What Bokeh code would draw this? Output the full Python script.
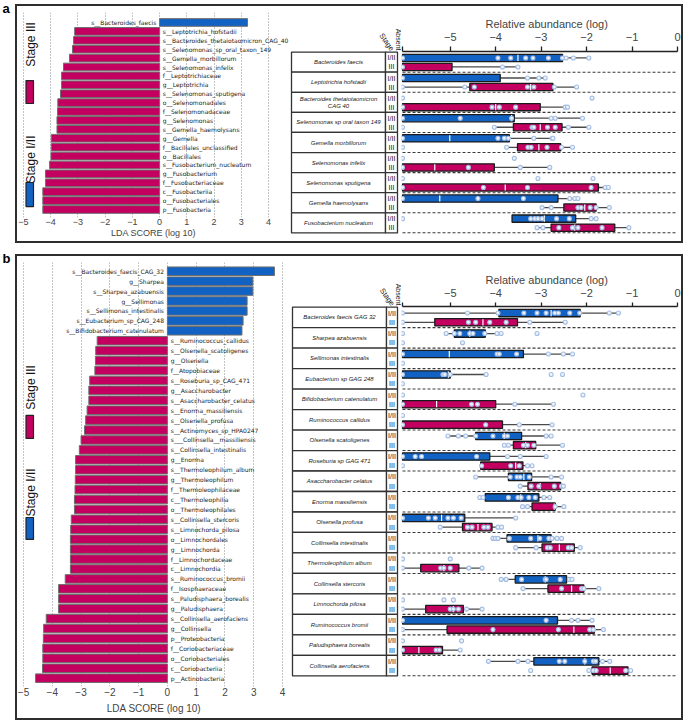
import math
from bokeh.plotting import figure
from bokeh.models import Range1d, FixedTicker, Spacer
from bokeh.layouts import row, column
from bokeh.core.properties import value
from bokeh.embed import file_html
from bokeh.resources import INLINE

AB = -6.05  # "Absent" position on the log axis

# ---------------- panel a : LDA ----------------
A_LDA_NAMES = ["s__Bacteroides_faecis", "s__Leptotrichia_hofstadii", "s__Bacteroides_thetaiotaomicron_CAG_40",
               "s__Selenomonas_sp_oral_taxon_149", "s__Gemella_morbillorum", "s__Selenomonas_infelix",
               "f__Leptotrichiaceae", "g__Leptotrichia", "s__Selenomonas_sputigena", "o__Selenomonadales",
               "f__Selenomonadaceae", "g__Selenomonas", "s__Gemella_haemolysans", "g__Gemella",
               "f__Bacillales_unclassified", "o__Bacillales", "s__Fusobacterium_nucleatum", "g__Fusobacterium",
               "f__Fusobacteriaceae", "c__Fusobacteriia", "o__Fusobacteriales", "p__Fusobacteria"]
A_LDA_VALUES = [3.23, -3.12, -3.16, -3.20, -3.31, -3.53, -3.60, -3.60, -3.64, -3.74, -3.75, -3.77, -3.77,
                -3.98, -3.98, -3.99, -4.04, -4.19, -4.19, -4.29, -4.29, -4.29]

# ---------------- panel b : LDA ----------------
B_LDA_NAMES = ["s__Bacteroides_faecis_CAG_32", "g__Sharpea", "s__Sharpea_azabuensis", "g__Sellimonas",
               "s__Sellimonas_intestinalis", "s__Eubacterium_sp_CAG_248", "s__Bifidobacterium_catenulatum",
               "s__Ruminococcus_callidus", "s__Olsenella_scatoligenes", "g__Olsenella", "f__Atopobiaceae",
               "s__Roseburia_sp_CAG_471", "g__Asaccharobacter", "s__Asaccharobacter_celatus",
               "s__Enorma_massiliensis", "s__Olsenella_profusa", "s__Actinomyces_sp_HPA0247",
               "s___Collinsella__massiliensis", "s__Collinsella_intestinalis", "g__Enorma",
               "s__Thermoleophilum_album", "g__Thermoleophilum", "f__Thermoleophilaceae", "c__Thermoleophilia",
               "o__Thermoleophilales", "s__Collinsella_stercoris", "s__Limnochorda_pilosa", "o__Limnochordales",
               "g__Limnochorda", "f__Limnochordaceae", "c__Limnochordia", "s__Ruminococcus_bromii",
               "f__Isosphaeraceae", "s__Paludisphaera_borealis", "g__Paludisphaera", "s__Collinsella_aerofaciens",
               "g__Collinsella", "p__Proteobacteria", "f__Coriobacteriaceae", "o__Coriobacteriales",
               "c__Coriobacteriia", "p__Actinobacteria"]
B_LDA_VALUES = [3.72, 2.97, 2.97, 2.77, 2.77, 2.63, 2.59, -2.44, -2.49, -2.50, -2.52, -2.70, -2.73, -2.73,
                -2.79, -2.84, -2.88, -3.00, -3.06, -3.19, -3.19, -3.20, -3.21, -3.23, -3.23, -3.34, -3.36,
                -3.37, -3.37, -3.37, -3.37, -3.55, -3.78, -3.78, -3.78, -4.21, -4.30, -4.31, -4.33, -4.33,
                -4.34, -4.58]

LDA_TICKS = [-5, -4, -3, -2, -1, 0, 1, 2, 3, 4]
ABUND_TICKS = [-5, -4, -3, -2, -1, 0]

# ---------------- panel a : relative abundance ----------------
A_SPECIES = ["Bacteroides faecis", "Leptotrichia hofstadii", "Bacteroides thetaiotaomicron\nCAG 40",
             "Selenomonas sp oral taxon 149", "Gemella morbillorum", "Selenomonas infelix",
             "Selenomonas sputigena", "Gemella haemolysans", "Fusobacterium nucleatum"]
# stage I/II : (q1, median, q3)
A_EARLY_BOX = [(AB, -3.51, -2.53), (AB, AB, -3.90), None, (AB, -3.65, -3.59), (AB, -5.01, -3.70), None, None,
               (AB, -5.23, -2.63), (-3.64, -2.93, -2.24)]
A_EARLY_WHISK = [(AB, -1.95), (AB, -2.91), None, (AB, -2.09), (AB, -2.74), None, None, (AB, -2.19), (-3.64, -1.79)]
A_EARLY_PTS = [[AB, -3.95, -3.67, -3.34, -3.18, -2.84, -2.53, -2.45, -2.29, -1.95],
               [AB, -3.30, -3.05, -2.91],
               [AB, -1.88],
               [AB, -4.78, -3.65, -2.78, -2.69, -2.09],
               [AB, -3.95, -3.81, -3.72, -3.16, -2.76, -2.74],
               [AB, -3.59],
               [AB, -3.07, -1.86],
               [AB, -4.39, -3.39, -2.37, -2.26, -2.19],
               [AB, -3.23, -3.14, -3.07, -2.98, -2.66, -2.38, -1.90, -1.79]]
# stage III
A_LATE_BOX = [(AB, AB, -4.96), (-4.57, -3.23, -2.74), (AB, -4.00, -3.02), (-3.61, -3.02, -2.54),
              (-3.52, -3.05, -2.57), (AB, -5.34, -4.03), (AB, -3.79, -1.74), (-2.50, -2.04, -1.79),
              (-2.78, -2.26, -1.38)]
A_LATE_WHISK = [(AB, -3.51), (AB, -2.22), (AB, -2.42), (-4.03, -1.95), (-3.76, -2.31), (AB, -2.81), (AB, -1.52),
                (-2.98, -1.50), (-3.09, -1.07)]
A_LATE_PTS = [[AB, -3.85, -3.51],
              [AB, -4.68, -4.47, -3.30, -3.16, -2.71, -2.22],
              [AB, -4.08, -3.92, -3.56, -2.47, -2.42],
              [AB, -4.03, -3.20, -3.16, -2.86, -2.69, -2.40, -1.95],
              [AB, -3.76, -3.29, -3.22, -2.87, -2.55, -2.31],
              [AB, -4.60, -3.46, -2.81],
              [AB, -4.27, -3.30, -1.90, -1.59, -1.52],
              [-2.98, -2.78, -2.19, -2.12, -1.92, -1.79, -1.50],
              [-3.09, -2.96, -2.61, -2.31, -2.19, -1.66, -1.07]]

# ---------------- panel b : relative abundance ----------------
B_SPECIES = ["Bacteroides faecis GAG 32", "Sharpea azabuensis", "Sellimonas intestinalis", "Eubacterium sp GAG 248",
             "Bifidobacterium catenulatum", "Ruminococcus callidus", "Olsenella scatoligenes",
             "Roseburia sp GAG 471", "Asaccharobacter celatus", "Enorma massiliensis", "Olsenella profusa",
             "Collinsella intestinalis", "Thermoleophilum album", "Collinsella stercoris", "Limnochorda pilosa",
             "Ruminococcus bromii", "Paludisphaera borealis", "Collinsella aerofaciens"]
B_EARLY_BOX = [(-3.93, -2.78, -2.14), (-4.91, -4.57, -4.23), (AB, -5.02, -3.39), (AB, -5.04, -5.00), None, None,
               (-4.44, -3.81, -3.43), (AB, AB, -4.13), (-3.72, -3.38, -3.21), (-4.23, -3.45, -3.05),
               (AB, -5.19, -4.68), (-3.75, -3.07, -2.78), None, (-3.57, -2.91, -2.44), None, (AB, AB, -2.64),
               None, (-3.16, -2.04, -1.73)]
B_EARLY_WHISK = [(AB, -1.30), (-5.09, -3.88), (AB, -2.31), (AB, -4.21), None, None, (-5.05, -2.78), (AB, -2.89),
                 (-4.44, -2.55), (-4.37, -2.81), (AB, -3.56), (-4.06, -2.55), None, (-3.88, -2.32), None,
                 (AB, -1.88), None, (-4.16, -1.49)]
B_EARLY_PTS = [[AB, -4.62, -3.95, -3.38, -3.09, -2.89, -2.70, -2.62, -2.37, -2.15, -1.50, -1.30],
               [AB, -5.09, -4.91, -4.79, -4.57, -4.50, -4.24, -3.97, -3.88, -3.09],
               [AB, -3.97, -3.92, -3.54, -2.84, -2.51, -2.31],
               [AB, -5.16, -5.12, -5.00, -4.21, -2.78, -2.53],
               [AB, -2.08],
               [AB],
               [-5.05, -4.82, -4.66, -4.44, -4.06, -3.81, -3.74, -2.89, -2.78],
               [AB, -5.77, -5.63, -4.42, -3.74, -3.46, -2.89],
               [-4.44, -3.68, -3.53, -3.46, -3.26, -2.78, -2.55],
               [-4.35, -4.28, -3.72, -3.51, -3.44, -3.27, -3.13, -2.94, -2.81],
               [AB, -5.48, -5.33, -5.05, -4.93, -4.76, -3.56],
               [-4.06, -4.01, -3.95, -3.70, -3.23, -3.03, -2.83, -2.76, -2.65, -2.55],
               [AB, -5.00],
               [-3.88, -3.77, -3.43, -2.91, -2.89, -2.58, -2.38, -2.32],
               [AB, -5.14, -4.93],
               [AB, -2.89, -2.33, -2.19, -1.88],
               [AB, -4.75],
               [-4.16, -3.51, -3.29, -2.60, -2.48, -2.04, -1.85, -1.80, -1.65, -1.49]]
B_LATE_BOX = [(-5.34, -4.28, -3.52), None, None, None, (AB, -5.30, -4.00), (AB, AB, -3.85), (-3.61, -3.34, -3.12),
              (-4.33, -3.56, -3.40), (-3.29, -3.02, -2.57), (-3.20, -2.71, -2.69), (-4.73, -4.39, -4.08),
              (-2.98, -2.60, -2.27), (-5.65, -5.14, -4.81), (-2.85, -2.33, -2.06), (-5.54, -4.93, -4.71),
              (-5.07, -2.28, -1.83), (AB, -5.69, -5.17), (-1.88, -1.48, -1.09)]
B_LATE_WHISK = [(AB, -2.47), None, None, None, (AB, -2.73), (AB, -2.76), (-3.81, -2.53), (-4.33, -3.20),
                (-3.46, -2.51), (-3.41, -2.50), (-5.22, -3.87), (-3.56, -2.14), (AB, -4.30), (-3.40, -1.73),
                (AB, -4.30), (AB, -1.63), (AB, -4.78), (-1.95, -1.03)]
B_LATE_PTS = [[AB, -4.60, -4.44, -4.13, -3.77, -3.25, -2.47],
              [AB, -4.73],
              [AB],
              [AB],
              [AB, -4.53, -4.40, -3.58, -2.73],
              [AB, -4.22, -3.48, -2.76],
              [-3.81, -3.72, -3.39, -3.30, -3.16, -2.53],
              [AB, -4.31, -3.67, -3.48, -3.30, -3.20],
              [-3.46, -3.22, -3.05, -2.71, -2.55, -2.51],
              [-3.41, -3.30, -2.69, -2.50],
              [-5.22, -4.62, -4.52, -4.26, -4.17, -3.95, -3.87],
              [-3.56, -3.11, -2.86, -2.80, -2.40, -2.33, -2.14],
              [AB, -5.21, -5.14, -5.00, -4.59, -4.30],
              [-3.40, -2.55, -2.11, -2.06, -1.73],
              [AB, -5.00, -4.93, -4.82, -4.64, -4.30],
              [AB, -4.06, -2.62, -1.93, -1.85, -1.63],
              [AB, -5.31, -5.24, -4.78],
              [-3.23, -1.95, -1.85, -1.79, -1.14, -1.03]]

BLUE = "#1262c4"
MAG = "#c3005f"
AXIS_FONT = "Liberation Sans"
MINUS = {t: (str(t).replace("-", "\u2212")) for t in range(-5, 5)}
PAD = 0.03
SUB_OFF = (0.29, 0.74)


def lda_figure(names, vals, width, frame_h, x0_px, xscale, top, pad_top, pad_bot, legend, fsize, lstand):
    n = len(names)
    xstart = -5 - x0_px / xscale
    xend = xstart + width / xscale
    p = figure(frame_width=width, frame_height=frame_h, x_range=Range1d(xstart, xend),
               y_range=Range1d(n - 1 + pad_bot, -pad_top), output_backend="svg", toolbar_location=None,
               y_axis_location=None, min_border_left=0, min_border_right=0, min_border_top=top,
               min_border_bottom=0)
    p.outline_line_color = None
    ax = p.xaxis[0]
    ax.ticker = FixedTicker(ticks=LDA_TICKS)
    ax.major_label_overrides = {t: MINUS[t] for t in LDA_TICKS}
    ax.axis_line_color = None
    ax.major_tick_line_color = None
    ax.major_tick_in = 0
    ax.major_tick_out = 0
    ax.minor_tick_line_color = None
    ax.minor_tick_out = 0
    ax.major_label_standoff = 1
    ax.major_label_text_font = AXIS_FONT
    ax.major_label_text_font_size = fsize
    ax.axis_label = "LDA SCORE (log 10)"
    ax.axis_label_text_font = AXIS_FONT
    ax.axis_label_text_font_style = "normal"
    ax.axis_label_text_font_size = fsize
    ax.axis_label_standoff = lstand
    p.ygrid.visible = False
    p.xgrid.ticker = FixedTicker(ticks=LDA_TICKS)
    p.xgrid.grid_line_dash = "1 2"
    p.xgrid.grid_line_color = "#8a8a8a"
    p.xgrid.grid_line_width = 1

    ys = list(range(n))
    cols = [BLUE if v > 0 else MAG for v in vals]
    p.hbar(y=ys, left=[min(v, 0) for v in vals], right=[max(v, 0) for v in vals], height=0.86,
           fill_color=cols, line_color="#6e6e6e", line_width=1)
    pos = [i for i, v in enumerate(vals) if v > 0]
    neg = [i for i, v in enumerate(vals) if v <= 0]
    p.text(x=[-0.12] * len(pos), y=pos, text=[names[i] for i in pos], text_align="right",
           text_baseline="middle", text_font=value("DejaVu Sans"), text_font_size="6px", text_color="#222")
    p.text(x=[0.12] * len(neg), y=neg, text=[names[i] for i in neg], text_align="left",
           text_baseline="middle", text_font=value("DejaVu Sans"), text_font_size="6px", text_color="#222")

    def dx(px):
        return xstart + px / xscale
    (t3, r3a, r3b, t12, r12a, r12b) = legend
    p.text(x=[dx(13.5), dx(13.5)], y=[t3, t12], text=["Stage III", "Stage I/II"], angle=math.pi / 2,
           text_align="center", text_baseline="middle", text_font=value(AXIS_FONT), text_font_size="12px",
           text_color="#111")
    p.quad(left=[dx(8.5), dx(8.5)], right=[dx(16), dx(16)], top=[r3a, r12a], bottom=[r3b, r12b],
           fill_color=[MAG, BLUE], line_color="#222", line_width=1.2)
    return p


def add_stage(p, boxes, whisks, pts, off, color, h):
    wx0, wx1, wy = [], [], []
    bl, br, bt, bb = [], [], [], []
    mx, my = [], []
    for i, (b, w) in enumerate(zip(boxes, whisks)):
        y = i + off
        if b is None:
            continue
        q1, med, q3 = b
        lo, hi = w
        if lo < q1:
            wx0.append(lo); wx1.append(q1); wy.append(y)
        if hi > q3:
            wx0.append(q3); wx1.append(hi); wy.append(y)
        bl.append(q1); br.append(q3); bt.append(y - h); bb.append(y + h)
        if med > q1 + 0.03:
            mx.append(med); my.append(y)
    p.segment(x0=wx0, x1=wx1, y0=wy, y1=wy, line_color="#4a4a4a", line_width=1.3)
    p.quad(left=bl, right=br, top=bt, bottom=bb, fill_color=color, line_color="#1b1b1b", line_width=1.3)
    p.segment(x0=mx, x1=mx, y0=[y - h * 0.85 for y in my], y1=[y + h * 0.85 for y in my],
              line_color="white", line_width=1.2)
    px, py = [], []
    for i, lst in enumerate(pts):
        for v in lst:
            px.append(v); py.append(i + off)
    p.scatter(x=px, y=py, size=4, fill_color="#eef3fb", line_color="#a3bde3", line_width=1.1)


def abund_figure(n, eb, ew, ep, lb, lw, lp, width, frame_h, top, bottom, title_off, tick_out, lab_stand):
    xscale = 275 / 6.05
    xstart = AB - 1 / xscale
    xend = xstart + width / xscale
    p = figure(frame_width=width, frame_height=frame_h, x_range=Range1d(xstart, xend),
               y_range=Range1d(n + PAD, -PAD), output_backend="svg", toolbar_location=None,
               x_axis_location="above", y_axis_location=None,
               min_border_left=0, min_border_right=0, min_border_top=top, min_border_bottom=bottom)
    p.outline_line_color = None
    p.grid.visible = False
    p.title.text = "Relative abundance (log)"
    p.title.align = "left"
    p.title.offset = title_off
    p.title.text_font = AXIS_FONT
    p.title.text_font_style = "normal"
    p.title.text_font_size = "11px"
    p.title.standoff = 0
    ax = p.xaxis[0]
    ax.ticker = FixedTicker(ticks=[AB] + ABUND_TICKS)
    ov = {t: MINUS[t] for t in ABUND_TICKS}
    ov[AB] = ""
    ax.major_label_overrides = ov
    ax.bounds = (AB, 0)
    ax.axis_line_width = 1.3
    ax.axis_line_color = "#222"
    ax.major_tick_line_color = "#222"
    ax.major_tick_line_width = 1.3
    ax.major_tick_in = 0
    ax.major_tick_out = tick_out
    ax.minor_tick_line_color = None
    ax.minor_tick_out = 0
    ax.major_label_standoff = lab_stand
    ax.major_label_text_font = AXIS_FONT
    ax.major_label_text_font_size = "11px"

    seps = list(range(1, n + 1))
    p.segment(x0=[AB] * n, x1=[0] * n, y0=seps, y1=seps, line_color="#3a3a3a", line_width=1.1,
              line_dash="3 2")
    add_stage(p, eb, ew, ep, SUB_OFF[0], BLUE, 0.18)
    add_stage(p, lb, lw, lp, SUB_OFF[1], MAG, 0.18)
    return p


def table_figure(species, width, canvas_h, top, frame_h, tl, tm, tr):
    n = len(species)
    ppu = frame_h / (n + 2 * PAD)          # pixels per species row, same as the box-plot figure
    y_top = -PAD - top / ppu
    y_bot = y_top + canvas_h / ppu
    p = figure(frame_width=width, frame_height=canvas_h, x_range=Range1d(0, width),
               y_range=Range1d(y_bot, y_top), output_backend="svg", toolbar_location=None,
               x_axis_location=None, y_axis_location=None, min_border=0)
    p.outline_line_color = None
    p.grid.visible = False
    ys = list(range(n))
    p.quad(left=[tl] * n, right=[tm] * n, top=ys, bottom=[y + 1 for y in ys], fill_color="white",
           line_color="#333", line_width=1.3)
    p.quad(left=[tm] * n, right=[tr] * n, top=ys, bottom=[y + 1 for y in ys], fill_color="white",
           line_color="#333", line_width=1.3)
    p.text(x=[(tl + tm) / 2] * n, y=[y + 0.5 for y in ys], text=species, text_align="center",
           text_baseline="middle", text_font=value(AXIS_FONT), text_font_style="italic",
           text_font_size="6px", text_color="#222", text_line_height=1.1)
    sx = (tm + tr) / 2
    p.text(x=[sx] * n, y=[y + SUB_OFF[0] for y in ys], text=["I/II"] * n, text_align="center",
           text_baseline="middle", text_font=value(AXIS_FONT), text_font_size="7px", text_color="#111")
    p.text(x=[sx] * n, y=[y + SUB_OFF[1] for y in ys], text=["III"] * n, text_align="center",
           text_baseline="middle", text_font=value(AXIS_FONT), text_font_size="7px", text_color="#111")
    p.text(x=[width - 3.5], y=[-0.08], text=["Absent"], angle=-math.pi / 2, text_align="right",
           text_baseline="middle", text_font=value(AXIS_FONT), text_font_size="7px", text_color="#222")
    p.text(x=[sx + 1], y=[-0.1], text=["Stage"], angle=-0.95, text_align="right",
           text_baseline="middle", text_font=value(AXIS_FONT), text_font_size="7.5px", text_color="#222")
    return p


def letter_figure(txt, height):
    p = figure(width=15, height=height, x_range=Range1d(0, 15), y_range=Range1d(0, height),
               output_backend="svg", toolbar_location=None, x_axis_location=None, y_axis_location=None,
               min_border=0)
    p.outline_line_color = None
    p.grid.visible = False
    p.text(x=[2], y=[height], text=[txt], text_align="left", text_baseline="top", text_font=value(AXIS_FONT),
           text_font_style="bold", text_font_size="13px", text_color="#000")
    return p


BORDER = {"border": "2px solid #2e2e2e"}

# panel a (inner 664 x 235)
fa_l = lda_figure(A_LDA_NAMES, A_LDA_VALUES, 272, 205, 6, 27.22, 6, 1.12, 0.9,
                  (2.47, 6.52, 9.10, 15.39, 17.97, 20.67), "9px", 0)
fa_t = table_figure(A_SPECIES, 112, 235, 45, 182, 2, 96, 108)
fa_r = abund_figure(len(A_SPECIES), A_EARLY_BOX, A_EARLY_WHISK, A_EARLY_PTS, A_LATE_BOX, A_LATE_WHISK,
                    A_LATE_PTS, 280, 182, 45, 8, 84, 5, 6)
# panel b (inner 664 x 462)
fb_l = lda_figure(B_LDA_NAMES, B_LDA_VALUES, 273, 424, 6, 28.78, 6, 0.88, 0.84,
                  (11.71, 14.53, 16.85, 22.29, 24.81, 27.02), "10px", 4)
fb_t = table_figure(B_SPECIES, 111, 462, 50, 370, 2, 96, 107)
fb_r = abund_figure(len(B_SPECIES), B_EARLY_BOX, B_EARLY_WHISK, B_EARLY_PTS, B_LATE_BOX, B_LATE_WHISK,
                    B_LATE_PTS, 280, 370, 50, 42, 84, 4, 6)

panel_a = row(column(fa_l), column(fa_t), column(fa_r), spacing=0, styles=BORDER)
panel_b = row(column(fb_l), column(fb_t), column(fb_r), spacing=0, styles=BORDER)
block_a = row(letter_figure("a", 243), column(Spacer(height=4), panel_a, spacing=0), spacing=0)
block_b = row(letter_figure("b", 470), column(Spacer(height=4), panel_b, spacing=0), spacing=0)
page = column(block_a, block_b, spacing=7)

open("out.html", "w").write(file_html(page, INLINE))
